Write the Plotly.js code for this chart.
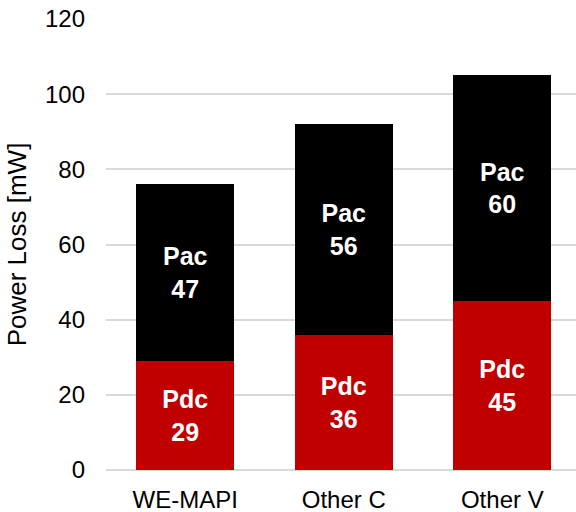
<!DOCTYPE html>
<html>
<head>
<meta charset="utf-8">
<script src="https://cdn.plot.ly/plotly-3.0.1.min.js"></script>
<style>html,body{margin:0;padding:0;background:#fff;}#chart{width:576px;height:512px;}</style>
</head>
<body>
<div id="chart"></div>
<script>
const categories = ["WE-MAPI", "Other C", "Other V"];
const pdcValues = [29, 36, 45];
const pacValues = [47, 56, 60];
const yTicks = [0, 20, 40, 60, 80, 100, 120];

const labelFont = {family: "Liberation Sans, Arial, sans-serif", size: 25, color: "#ffffff", weight: "bold"};

const traces = [
  {
    type: "bar", name: "Pdc", x: categories, y: pdcValues,
    marker: {color: "#c00000"},
    text: pdcValues.map(v => "<b>Pdc</b><br><b>" + v + "</b>"),
    textposition: "inside", insidetextanchor: "middle", textangle: 0,
    constraintext: "none", textfont: labelFont, hoverinfo: "skip"
  },
  {
    type: "bar", name: "Pac", x: categories, y: pacValues,
    marker: {color: "#000000"},
    text: pacValues.map(v => "<b>Pac</b><br><b>" + v + "</b>"),
    textposition: "inside", insidetextanchor: "middle", textangle: 0,
    constraintext: "none", textfont: labelFont, hoverinfo: "skip"
  }
];

const layout = {
  width: 576, height: 512,
  margin: {l: 106, r: 0, t: 19, b: 42},
  barmode: "stack",
  bargap: 0.38,
  showlegend: false,
  paper_bgcolor: "#ffffff", plot_bgcolor: "#ffffff",
  font: {family: "Liberation Sans, Arial, sans-serif", size: 24, color: "#000000"},
  xaxis: {
    type: "category", range: [-0.5, 2.465],
    showline: false, ticks: "", ticklabelstandoff: 13,
    tickfont: {size: 24}
  },
  yaxis: {
    range: [0, 120], tickvals: yTicks, ticktext: yTicks.map(String),
    showgrid: true, gridcolor: "#d9d9d9", gridwidth: 2,
    zeroline: true, zerolinecolor: "#d9d9d9", zerolinewidth: 2,
    showline: false, ticks: "", ticklabelstandoff: 20,
    tickfont: {size: 24},
    title: {text: "Power Loss [mW]", font: {size: 26}, standoff: 10}
  }
};

Plotly.newPlot("chart", traces, layout, {displayModeBar: false, staticPlot: true});
</script>
</body>
</html>
